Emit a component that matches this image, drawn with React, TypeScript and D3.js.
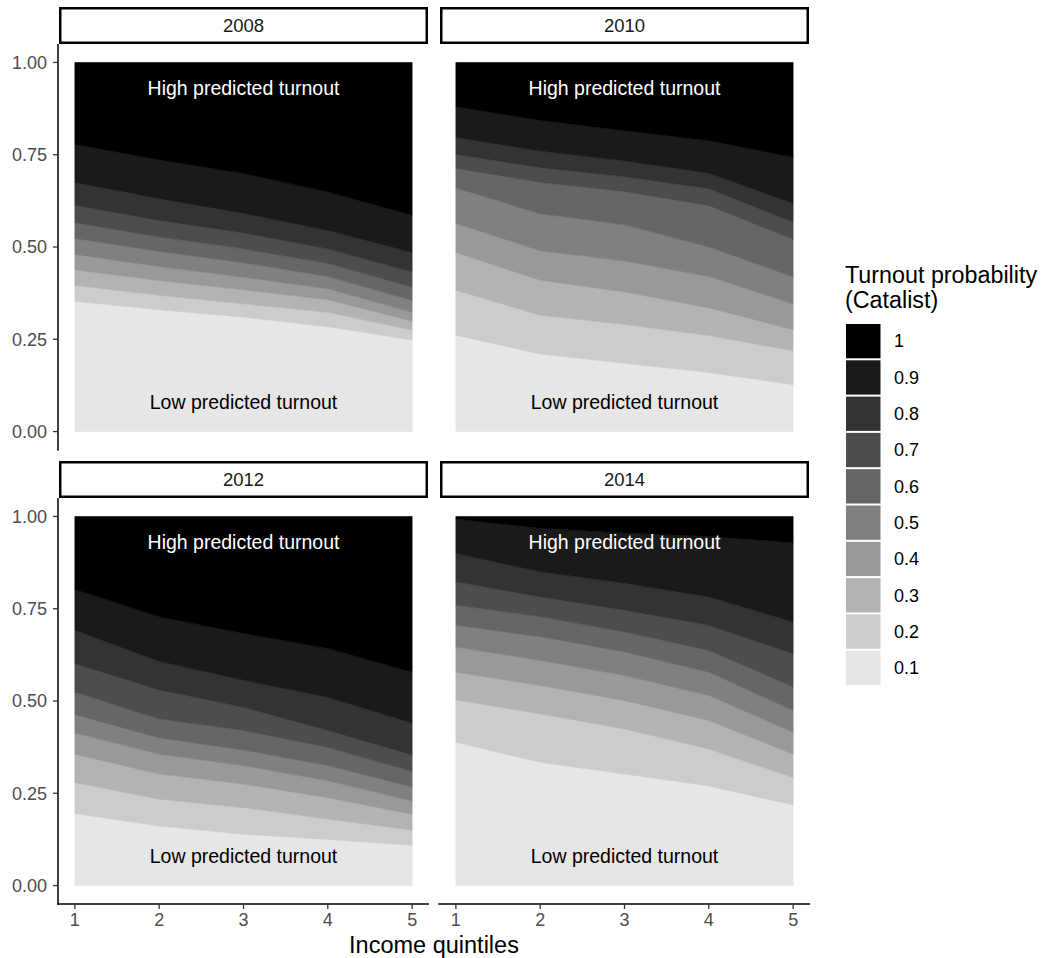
import * as d3 from 'd3'
import { useEffect, useRef } from 'react'

// income quintiles on the x axis
const quintiles = [1, 2, 3, 4, 5]
const years = ['2008', '2010', '2012', '2014']
// turnout probability levels, lowest first
const levels = [0.1, 0.2, 0.3, 0.4, 0.5, 0.6, 0.7, 0.8, 0.9, 1]
const levelLabels = ['0.1', '0.2', '0.3', '0.4', '0.5', '0.6', '0.7', '0.8', '0.9', '1']
const yTicks = [0, 0.25, 0.5, 0.75, 1]

// cumulative share at the top of each level 0.1 .. 0.9 (level 1 fills up to 1)
const cum2008 = [
  [0.353, 0.33, 0.31, 0.284, 0.248],
  [0.396, 0.369, 0.346, 0.323, 0.275],
  [0.438, 0.409, 0.384, 0.357, 0.299],
  [0.48, 0.447, 0.418, 0.387, 0.323],
  [0.523, 0.488, 0.457, 0.42, 0.355],
  [0.566, 0.527, 0.495, 0.455, 0.391],
  [0.613, 0.572, 0.538, 0.495, 0.432],
  [0.675, 0.631, 0.591, 0.545, 0.485],
  [0.778, 0.736, 0.699, 0.649, 0.586],
]
const cum2010 = [
  [0.261, 0.21, 0.185, 0.16, 0.127],
  [0.383, 0.315, 0.29, 0.26, 0.219],
  [0.485, 0.41, 0.378, 0.335, 0.276],
  [0.564, 0.49, 0.462, 0.42, 0.346],
  [0.66, 0.59, 0.56, 0.5, 0.419],
  [0.713, 0.675, 0.65, 0.612, 0.52],
  [0.751, 0.715, 0.69, 0.658, 0.567],
  [0.797, 0.76, 0.733, 0.7, 0.618],
  [0.88, 0.843, 0.815, 0.788, 0.743],
]
const cum2012 = [
  [0.195, 0.161, 0.139, 0.125, 0.109],
  [0.279, 0.234, 0.211, 0.18, 0.15],
  [0.356, 0.302, 0.275, 0.238, 0.193],
  [0.413, 0.356, 0.325, 0.284, 0.229],
  [0.463, 0.4, 0.367, 0.325, 0.267],
  [0.524, 0.451, 0.42, 0.374, 0.309],
  [0.601, 0.53, 0.483, 0.42, 0.354],
  [0.692, 0.607, 0.556, 0.51, 0.44],
  [0.802, 0.728, 0.683, 0.642, 0.578],
]
const cum2014 = [
  [0.388, 0.334, 0.302, 0.27, 0.218],
  [0.503, 0.465, 0.424, 0.37, 0.293],
  [0.578, 0.542, 0.501, 0.447, 0.356],
  [0.646, 0.61, 0.569, 0.515, 0.415],
  [0.705, 0.674, 0.633, 0.578, 0.474],
  [0.76, 0.728, 0.687, 0.637, 0.538],
  [0.823, 0.782, 0.746, 0.705, 0.628],
  [0.9, 0.85, 0.819, 0.782, 0.714],
  [0.993, 0.968, 0.955, 0.946, 0.929],
]
const cumByYear = [cum2008, cum2010, cum2012, cum2014]

const font = 'Arial, "Liberation Sans", sans-serif'

const App = () => {
  const ref = useRef<SVGSVGElement>(null)

  useEffect(() => {
    const svg = d3.select(ref.current)
    svg.selectAll('*').remove()

    const cols = [
      [58, 429],
      [439, 810],
    ]
    const rows = [
      [44, 450],
      [498, 904],
    ]
    const stripH = 37

    const grey = d3.scaleLinear<string>().domain([0, 1]).range(['#ffffff', '#000000'])

    years.forEach(function (year, p) {
      const col = cols[p % 2],
        row = rows[Math.floor(p / 2)]
      const x = d3.scaleLinear().domain([0.8, 5.2]).range(col)
      const y = d3.scaleLinear().domain([-0.05, 1.05]).range([row[1], row[0]])
      const cum = cumByYear[p]

      const g = svg.append('g')

      // bands, one per level
      levels.forEach(function (lv, i) {
        const lower = i === 0 ? quintiles.map(() => 0) : cum[i - 1]
        const upper = i === levels.length - 1 ? quintiles.map(() => 1) : cum[i]
        const area = d3
          .area<number>()
          .x((q) => x(q))
          .y0((_, k) => y(lower[k]))
          .y1((_, k) => y(upper[k]))
        g.append('path')
          .attr('d', area(quintiles))
          .attr('fill', grey(lv))
          .attr('stroke', grey(lv))
          .attr('stroke-width', 0.6)
      })

      g.append('text')
        .attr('x', x(3))
        .attr('y', y(0.93))
        .attr('dy', '0.35em')
        .attr('text-anchor', 'middle')
        .attr('fill', 'white')
        .style('font-family', font)
        .style('font-size', '19.5px')
        .text('High predicted turnout')

      g.append('text')
        .attr('x', x(3))
        .attr('y', y(0.08))
        .attr('dy', '0.35em')
        .attr('text-anchor', 'middle')
        .attr('fill', 'black')
        .style('font-family', font)
        .style('font-size', '19.5px')
        .text('Low predicted turnout')

      // strip
      g.append('rect')
        .attr('x', col[0] + 2.25)
        .attr('y', row[0] - stripH + 1.25)
        .attr('width', col[1] - col[0] - 4.5)
        .attr('height', stripH - 2.5)
        .attr('fill', 'white')
        .attr('stroke', 'black')
        .attr('stroke-width', 2.5)
      g.append('text')
        .attr('x', (col[0] + col[1]) / 2)
        .attr('y', row[0] - stripH / 2)
        .attr('dy', '0.36em')
        .attr('text-anchor', 'middle')
        .attr('fill', '#1a1a1a')
        .style('font-family', font)
        .style('font-size', '18.5px')
        .text(year)

      // y axis on the left column
      if (p % 2 === 0) {
        g.append('line')
          .attr('x1', col[0])
          .attr('x2', col[0])
          .attr('y1', row[0])
          .attr('y2', row[1] + 0.75)
          .attr('stroke', 'black')
          .attr('stroke-width', 1.5)
        yTicks.forEach(function (t) {
          g.append('line')
            .attr('x1', col[0] - 5)
            .attr('x2', col[0])
            .attr('y1', y(t))
            .attr('y2', y(t))
            .attr('stroke', '#333')
            .attr('stroke-width', 1.3)
          g.append('text')
            .attr('x', col[0] - 11)
            .attr('y', y(t))
            .attr('dy', '0.36em')
            .attr('text-anchor', 'end')
            .attr('fill', '#4d4d4d')
            .style('font-family', font)
            .style('font-size', '18px')
            .text(d3.format('.2f')(t))
        })
      }

      // x axis on the bottom row
      if (p >= 2) {
        g.append('line')
          .attr('x1', col[0] - 0.75)
          .attr('x2', col[1])
          .attr('y1', row[1])
          .attr('y2', row[1])
          .attr('stroke', 'black')
          .attr('stroke-width', 1.5)
        quintiles.forEach(function (q) {
          g.append('line')
            .attr('x1', x(q))
            .attr('x2', x(q))
            .attr('y1', row[1])
            .attr('y2', row[1] + 5)
            .attr('stroke', '#333')
            .attr('stroke-width', 1.3)
          g.append('text')
            .attr('x', x(q))
            .attr('y', row[1] + 22)
            .attr('text-anchor', 'middle')
            .attr('fill', '#4d4d4d')
            .style('font-family', font)
            .style('font-size', '18px')
            .text(q)
        })
      }
    })

    svg
      .append('text')
      .attr('x', (cols[0][0] + cols[1][1]) / 2)
      .attr('y', 953)
      .attr('text-anchor', 'middle')
      .attr('fill', 'black')
      .style('font-family', font)
      .style('font-size', '23.5px')
      .text('Income quintiles')

    // legend
    const legend = svg.append('g')
    legend
      .append('text')
      .attr('x', 845)
      .attr('y', 283)
      .style('font-family', font)
      .style('font-size', '23.3px')
      .text('Turnout probability')
    legend
      .append('text')
      .attr('x', 845)
      .attr('y', 308)
      .style('font-family', font)
      .style('font-size', '23.3px')
      .text('(Catalist)')

    const keys = levels.slice().reverse()
    const keyY = d3
      .scaleBand<number>()
      .domain(d3.range(keys.length))
      .range([323, 323 + 36.3 * keys.length])
    keys.forEach(function (lv, i) {
      legend
        .append('rect')
        .attr('x', 846)
        .attr('y', keyY(i)! + 1)
        .attr('width', 34.5)
        .attr('height', 34.3)
        .attr('fill', grey(lv))
      legend
        .append('text')
        .attr('x', 894)
        .attr('y', keyY(i)! + 18)
        .attr('dy', '0.36em')
        .style('font-family', font)
        .style('font-size', '18px')
        .text(levelLabels[levels.indexOf(lv)])
    })
  }, [])

  return (
    <svg
      ref={ref}
      width={1042}
      height={958}
      style={{ position: 'absolute', left: 0, top: 0, background: 'white' }}
    />
  )
}

export default App
